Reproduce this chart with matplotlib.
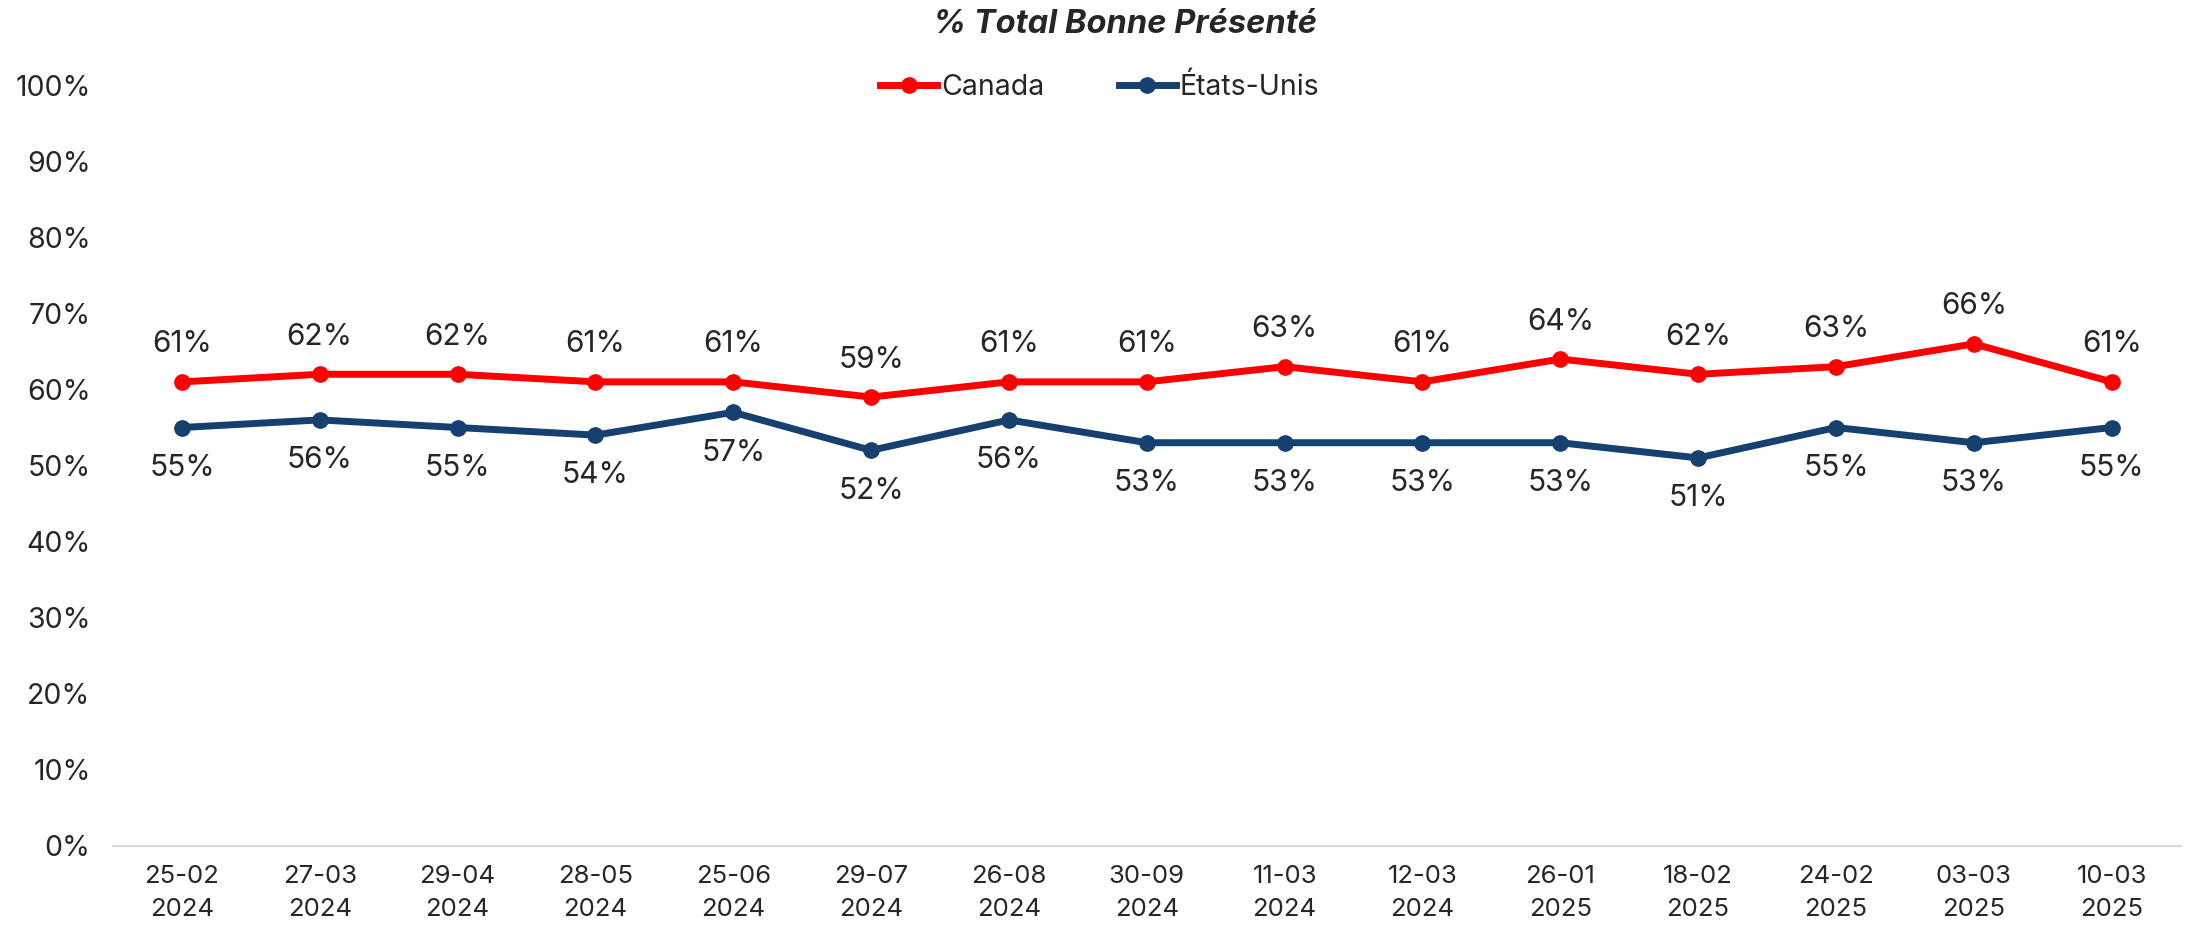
import matplotlib.pyplot as plt
from matplotlib.ticker import PercentFormatter

# dates of each survey wave
dates = ['25-02\n2024', '27-03\n2024', '29-04\n2024', '28-05\n2024', '25-06\n2024',
         '29-07\n2024', '26-08\n2024', '30-09\n2024', '11-03\n2024', '12-03\n2024',
         '26-01\n2025', '18-02\n2025', '24-02\n2025', '03-03\n2025', '10-03\n2025']
canada = [61, 62, 62, 61, 61, 59, 61, 61, 63, 61, 64, 62, 63, 66, 61]
etats_unis = [55, 56, 55, 54, 57, 52, 56, 53, 53, 53, 53, 51, 55, 53, 55]

RED = '#FF0000'
NAVY = '#15406F'
TXT = '#262626'
FS = 20.5

plt.rcParams['font.family'] = ['Inter', 'DejaVu Sans']

fig = plt.figure(figsize=(21.85, 9.26), dpi=100)
ax = fig.add_axes([0.0517, 0.0865, 0.9463, 0.8215])

x = list(range(len(dates)))
ax.plot(x, canada, color=RED, lw=5, marker='o', ms=11, label='Canada')
ax.plot(x, etats_unis, color=NAVY, lw=5, marker='o', ms=11, label='États-Unis')

for i, v in enumerate(canada):
    ax.annotate(f'{v}%', (i, v), xytext=(0, 27), textcoords='offset points',
                ha='center', va='center', fontsize=21.5, color=TXT)
for i, v in enumerate(etats_unis):
    ax.annotate(f'{v}%', (i, v), xytext=(0, -29), textcoords='offset points',
                ha='center', va='center', fontsize=21.5, color=TXT)

ax.set_xlim(-0.5, len(dates) - 0.5)
ax.set_ylim(0, 100)
ax.set_yticks(range(0, 101, 10))
ax.yaxis.set_major_formatter(PercentFormatter(decimals=0))
ax.set_xticks(x)
ax.set_xticklabels(dates, linespacing=1.55)
ax.tick_params(axis='y', length=0, labelsize=FS, labelcolor=TXT, pad=16)
ax.tick_params(axis='x', length=0, labelsize=18.5, labelcolor=TXT, pad=14)

for s in ['top', 'right', 'left']:
    ax.spines[s].set_visible(False)
ax.spines['bottom'].set_color('#D9D9D9')
ax.spines['bottom'].set_linewidth(1.5)

fig.text(0.515, 0.974, '% Total Bonne Présenté', ha='center', va='center',
         fontsize=23.5, fontweight='bold', fontstyle='italic', color=TXT)

fig.legend(loc='center', bbox_to_anchor=(0.5034, 0.906), ncol=2, frameon=False,
           fontsize=FS, labelcolor=TXT, handlelength=2.0, handletextpad=0.15,
           columnspacing=2.6)

fig.savefig('out.png', dpi=100)
